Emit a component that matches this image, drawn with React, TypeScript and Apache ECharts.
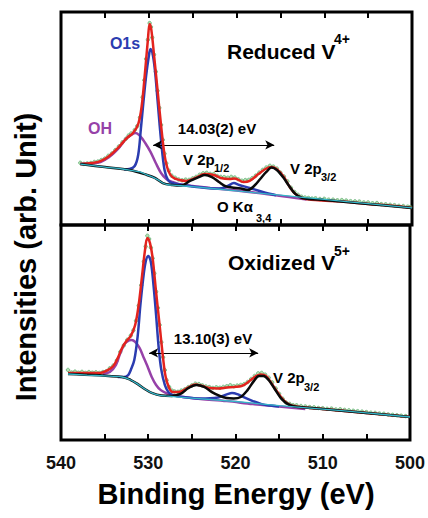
import React, { useEffect, useRef } from "react";
import * as echarts from "echarts";

// Tick labels on the binding energy axis
const xTickLabels = [540, 530, 520, 510, 500];

// ---------- Top panel: Reduced V4+ ----------
const topRaw: number[][] = [
  [537.8, 29.2], [537.4, 28.7], [537.0, 28.9], [536.6, 29.1], [536.2, 29.6], [535.8, 29.8],
  [535.4, 30.5], [535.0, 31.2], [534.6, 32.5], [534.2, 33.6], [533.8, 35.2], [533.4, 36.9],
  [533.0, 38.8], [532.6, 40.5], [532.3, 42.0], [532.0, 43.0], [531.6, 44.6], [531.3, 46.5],
  [531.0, 50.5], [530.7, 60.0], [530.5, 68.0], [530.3, 78.0], [530.1, 87.0], [529.9, 94.8],
  [529.75, 93.0], [529.6, 88.0], [529.4, 80.0], [529.2, 72.0], [529.0, 63.0], [528.8, 55.0],
  [528.6, 47.0], [528.4, 40.0], [528.2, 33.5], [528.0, 29.0], [527.7, 25.5], [527.4, 23.2],
  [527.0, 22.2], [526.6, 21.4], [526.2, 21.0], [525.8, 21.3], [525.4, 21.2], [525.0, 21.9],
  [524.6, 22.6], [524.2, 23.6], [523.8, 24.3], [523.4, 24.5], [523.0, 24.0], [522.6, 23.9],
  [522.2, 23.0], [521.8, 22.6], [521.4, 22.5], [521.0, 22.2], [520.6, 22.6], [520.2, 22.3],
  [519.8, 21.5], [519.4, 20.8], [519.0, 21.1], [518.6, 21.2], [518.2, 22.0], [517.8, 23.2],
  [517.4, 24.6], [517.0, 25.9], [516.6, 27.0], [516.2, 27.8], [515.8, 27.4], [515.4, 26.5],
  [515.0, 24.6], [514.6, 22.8], [514.2, 20.5], [513.8, 17.5], [513.4, 15.5], [513.0, 14.2],
  [512.6, 13.3], [512.2, 12.9], [511.8, 12.7], [511.4, 12.4], [511.0, 12.5], [510.5, 12.2],
  [510.0, 12.3], [509.5, 11.9], [509.0, 11.9], [508.5, 11.6], [508.0, 11.7], [507.5, 11.5],
  [507.0, 11.2], [506.5, 11.1], [506.0, 11.0], [505.5, 10.6], [505.0, 10.6], [504.5, 10.2],
  [504.0, 10.3], [503.5, 9.8], [503.0, 9.7], [502.5, 9.5], [502.0, 9.3], [501.5, 9.0],
  [501.0, 8.9], [500.5, 8.6], [500.2, 8.4],
];
const topEnvelope: number[][] = [
  [537.8, 28.6], [536.5, 29.1], [535.5, 30.0], [534.5, 32.4], [533.5, 36.2], [532.5, 40.8],
  [531.8, 43.2], [531.2, 47.4], [530.8, 56.0], [530.4, 72.8], [530.1, 86.9], [529.9, 94.4],
  [529.7, 91.5], [529.4, 79.8], [529.0, 63.4], [528.6, 46.9], [528.2, 32.9], [527.8, 25.8],
  [527.3, 22.5], [526.5, 21.1], [525.7, 20.7], [524.7, 22.1], [523.6, 23.9], [522.6, 23.5],
  [521.8, 22.1], [520.8, 21.6], [520.2, 21.8], [519.2, 20.2], [518.5, 20.7], [517.5, 23.9],
  [516.7, 26.3], [516.0, 27.2], [515.3, 25.8], [514.6, 22.5], [514.0, 18.3], [513.3, 14.6],
  [512.5, 12.7], [511.0, 11.7], [508.0, 11.0], [505.0, 9.9], [502.0, 8.9], [500.0, 8.0],
];
const topO1s: number[][] = [
  [532.8, 26.1], [532.2, 26.3], [531.6, 27.7], [531.2, 33.0], [530.9, 45.0], [530.6, 58.0],
  [530.3, 70.0], [530.0, 79.0], [529.8, 82.6], [529.6, 81.2], [529.3, 72.8], [529.0, 58.7],
  [528.6, 39.9], [528.2, 25.8], [527.8, 21.1], [527.3, 19.7], [525.0, 18.1], [522.0, 17.1],
  [521.0, 18.3], [520.3, 19.7], [519.7, 18.8], [518.5, 17.4], [517.0, 15.5], [515.5, 14.0],
];
const topOH: number[][] = [
  [537.8, 28.6], [536.5, 28.9], [535.5, 29.6], [534.5, 31.9], [533.5, 35.7], [532.6, 40.4],
  [532.0, 42.3], [531.5, 43.2], [531.0, 41.8], [530.4, 38.5], [529.8, 34.3], [529.2, 29.1],
  [528.6, 24.4], [528.0, 21.6], [527.3, 20.2], [526.5, 19.2], [525.0, 18.3], [523.0, 17.4],
  [520.0, 16.2], [517.0, 14.8], [514.0, 13.1], [512.0, 12.0],
];
const topV2p: number[][] = [
  [537.8, 28.6], [535.0, 27.2], [532.2, 25.8], [530.2, 23.5], [529.3, 22.1], [528.4, 19.7],
  [527.3, 18.8], [526.3, 18.5], [525.3, 20.7], [524.3, 22.5], [523.6, 23.5], [522.8, 22.5],
  [522.0, 20.2], [521.2, 18.1], [520.5, 17.6], [519.5, 17.1], [518.7, 16.4], [518.0, 18.3],
  [517.3, 21.6], [516.6, 24.9], [516.0, 27.0], [515.4, 25.8], [514.7, 22.5], [514.0, 18.3],
  [513.3, 14.6], [512.5, 12.7], [510.0, 11.7], [505.0, 9.9], [500.0, 8.0],
];
const topBackground: number[][] = [
  [537.8, 28.6], [535.0, 27.2], [533.0, 26.3], [532.2, 25.8], [531.0, 24.9], [530.2, 23.5],
  [529.5, 22.4], [529.0, 21.3], [528.4, 19.7], [527.8, 18.9], [527.3, 18.7], [525.0, 18.0],
  [520.0, 16.0], [515.0, 14.0], [510.0, 12.0], [505.0, 10.0], [500.0, 8.0],
];
// [from BE, to BE, level]
const topArrow = [529.5, 515.7, 37.6];

// ---------- Bottom panel: Oxidized V5+ ----------
const botRaw: number[][] = [
  [539.2, 32.6], [538.8, 31.4], [538.4, 31.8], [538.0, 31.3], [537.6, 31.7], [537.2, 31.2],
  [536.8, 31.6], [536.4, 31.3], [536.0, 31.5], [535.6, 31.2], [535.2, 31.6], [534.8, 32.0],
  [534.4, 33.4], [534.0, 34.6], [533.6, 37.0], [533.2, 41.0], [532.8, 44.0], [532.4, 46.6],
  [532.0, 48.6], [531.7, 51.0], [531.4, 55.5], [531.1, 62.5], [530.8, 72.0], [530.5, 83.0],
  [530.3, 90.0], [530.1, 95.0], [529.9, 93.5], [529.7, 89.5], [529.5, 84.5], [529.3, 77.5],
  [529.1, 69.0], [528.9, 61.5], [528.7, 53.5], [528.5, 45.5], [528.3, 38.5], [528.1, 32.5],
  [527.9, 27.8], [527.6, 24.6], [527.3, 23.0], [527.0, 22.6], [526.6, 22.4], [526.2, 23.0],
  [525.8, 23.6], [525.4, 24.6], [525.0, 25.4], [524.6, 26.2], [524.2, 26.0], [523.8, 25.4],
  [523.4, 24.9], [523.0, 24.6], [522.6, 24.2], [522.2, 24.5], [521.8, 24.3], [521.4, 24.7],
  [521.0, 25.0], [520.6, 25.5], [520.2, 25.0], [519.8, 25.3], [519.4, 25.6], [519.0, 26.0],
  [518.6, 27.0], [518.2, 28.4], [517.8, 29.8], [517.4, 31.0], [517.0, 31.2], [516.6, 30.4],
  [516.2, 29.0], [515.8, 26.8], [515.4, 24.0], [515.0, 21.5], [514.6, 19.2], [514.2, 17.4],
  [513.8, 16.8], [513.4, 16.2], [513.0, 16.1], [512.5, 15.8], [512.0, 15.6], [511.5, 15.3],
  [511.0, 15.2], [510.5, 14.9], [510.0, 14.8], [509.5, 14.5], [509.0, 14.6], [508.5, 14.2],
  [508.0, 14.3], [507.5, 14.0], [507.0, 13.8], [506.5, 13.6], [506.0, 13.4], [505.5, 13.2],
  [505.0, 13.0], [504.5, 12.7], [504.0, 12.6], [503.5, 12.3], [503.0, 12.2], [502.5, 11.9],
  [502.0, 11.7], [501.5, 11.5], [501.0, 11.3], [500.5, 11.1],
];
const botEnvelope: number[][] = [
  [539.2, 31.2], [537.0, 31.2], [535.5, 31.2], [534.6, 32.6], [534.0, 34.4], [533.5, 38.1],
  [533.0, 42.8], [532.5, 46.0], [532.0, 48.4], [531.5, 53.5], [531.1, 62.8], [530.7, 76.7],
  [530.4, 87.4], [530.1, 94.0], [529.8, 91.6], [529.5, 84.7], [529.1, 68.8], [528.7, 53.5],
  [528.3, 38.1], [528.0, 29.3], [527.6, 24.2], [527.2, 22.3], [526.5, 22.3], [525.5, 24.2],
  [524.6, 25.8], [523.8, 25.1], [523.0, 24.2], [522.0, 24.0], [521.0, 24.4], [520.2, 24.7],
  [519.3, 25.1], [518.4, 27.4], [517.6, 29.8], [517.1, 30.5], [516.5, 29.8], [515.9, 26.5],
  [515.2, 22.3], [514.5, 18.6], [513.8, 16.5], [513.0, 15.6], [512.0, 15.1], [510.0, 14.4],
  [505.0, 12.6], [500.0, 10.7],
];
const botO1s: number[][] = [
  [533.5, 29.3], [532.8, 29.3], [532.3, 30.2], [532.0, 32.6], [531.6, 37.2], [531.2, 48.8],
  [530.9, 62.8], [530.6, 74.4], [530.3, 82.8], [530.0, 85.6], [529.7, 82.8], [529.4, 72.1],
  [529.1, 58.1], [528.8, 42.8], [528.5, 32.6], [528.1, 25.6], [527.7, 22.3], [527.2, 20.9],
  [526.0, 20.0], [524.0, 19.3], [522.0, 19.8], [521.0, 21.2], [520.4, 21.9], [519.7, 21.2],
  [519.0, 19.8], [518.0, 18.1], [517.0, 16.7], [516.0, 16.0], [515.0, 15.6],
];
const botOH: number[][] = [
  [535.2, 30.7], [534.4, 31.6], [533.7, 34.9], [533.2, 40.5], [532.7, 44.7], [532.2, 46.3],
  [531.9, 46.5], [531.5, 45.6], [531.0, 42.8], [530.6, 39.1], [530.1, 34.4], [529.6, 29.3],
  [529.1, 25.6], [528.6, 23.3], [528.0, 21.9], [527.3, 20.9], [526.0, 20.0], [524.0, 19.1],
  [521.0, 18.1], [518.0, 16.7], [515.0, 15.6], [512.0, 14.4],
];
const botV2p: number[][] = [
  [539.2, 30.7], [533.0, 29.3], [532.0, 27.9], [531.2, 26.0], [530.4, 23.7], [529.6, 21.9],
  [528.5, 20.7], [527.3, 20.5], [526.3, 21.4], [525.4, 24.2], [524.5, 25.6], [523.6, 24.7],
  [522.7, 22.3], [521.8, 20.5], [521.0, 19.5], [520.2, 19.3], [519.4, 20.0], [518.6, 23.3],
  [517.9, 27.4], [517.3, 29.8], [516.8, 29.8], [516.2, 27.9], [515.5, 23.7], [514.8, 19.5],
  [514.0, 16.7], [513.2, 15.6], [512.0, 15.1], [510.0, 14.4], [505.0, 12.6], [500.0, 10.7],
];
const botBackground: number[][] = [
  [539.2, 30.7], [537.0, 30.2], [535.0, 29.8], [533.0, 29.3], [532.0, 27.9], [531.2, 26.0],
  [530.4, 23.7], [529.6, 21.9], [528.8, 20.9], [528.0, 20.5], [525.0, 19.5], [520.0, 17.9],
  [515.0, 16.0], [510.0, 14.4], [505.0, 12.6], [500.0, 10.7],
];
const botArrow = [529.9, 517.4, 40.5];

const FONT = '"Liberation Sans", Arial, Helvetica, sans-serif';
const C_RED = "#e3231e";
const C_BLUE = "#2b3cb0";
const C_PURPLE = "#9641a8";
const C_BLACK = "#0a0a0a";
const C_CYAN = "#35b6c8";

function lineSeries(data: number[][], idx: number, color: string, width: number, z: number, extra: any = {}) {
  return {
    type: "line",
    xAxisIndex: idx === 0 ? 0 : 2,
    yAxisIndex: idx,
    data,
    smooth: 0.35,
    showSymbol: false,
    symbol: "none",
    lineStyle: { color, width },
    z,
    silent: true,
    ...extra,
  };
}

function arrowMark(a: number[]) {
  return {
    silent: true,
    symbol: ["arrow", "arrow"],
    symbolSize: [7, 9],
    label: { show: false },
    lineStyle: { color: "#000", width: 1, type: "solid" },
    emphasis: { disabled: true },
    data: [[{ coord: [a[0], a[2]] }, { coord: [a[1], a[2]] }]],
  };
}

function scatterSeries(data: number[][], idx: number) {
  return {
    type: "scatter",
    xAxisIndex: idx === 0 ? 0 : 2,
    yAxisIndex: idx,
    data,
    symbol: "circle",
    symbolSize: 3.5,
    itemStyle: { color: "#a4d8a2", borderColor: "#3a9a50", borderWidth: 0.7 },
    z: 1,
    silent: true,
  };
}

function xAxisDef(gridIndex: number, position: string, labels: boolean) {
  return {
    type: "value",
    gridIndex,
    position,
    min: 500,
    max: 540,
    interval: 5,
    inverse: true,
    axisLine: { show: false },
    axisTick: { show: true, inside: true, length: 6, lineStyle: { color: "#000", width: 2 } },
    splitLine: { show: false },
    axisLabel: labels
      ? {
          show: true,
          margin: 14,
          color: "#111",
          fontFamily: FONT,
          fontWeight: "bold",
          fontSize: 18,
          formatter: (v: number) => (xTickLabels.indexOf(v) >= 0 ? String(v) : ""),
        }
      : { show: false },
  };
}

function txt(x: number, y: number, text: string, size: number, color = "#000", align = "left") {
  return {
    type: "text",
    x,
    y,
    silent: true,
    style: {
      text,
      fill: color,
      font: `bold ${size}px ${FONT}`,
      align,
      verticalAlign: "middle",
    },
  };
}

export default function App() {
  const ref = useRef<HTMLDivElement>(null);
  useEffect(() => {
    const chart = echarts.init(ref.current!, null, { renderer: "svg" });
    const option: any = {
      animation: false,
      backgroundColor: "#fff",
      grid: [
        { left: 61, top: 12, width: 351, height: 213, show: true, borderColor: "#000", borderWidth: 3, backgroundColor: "transparent" },
        { left: 61, top: 225, width: 351, height: 215, show: true, borderColor: "#000", borderWidth: 3, backgroundColor: "transparent" },
      ],
      xAxis: [
        xAxisDef(0, "bottom", false),
        xAxisDef(0, "top", false),
        xAxisDef(1, "bottom", true),
        xAxisDef(1, "top", false),
      ],
      yAxis: [
        { type: "value", gridIndex: 0, min: 0, max: 100, show: false },
        { type: "value", gridIndex: 1, min: 0, max: 100, show: false },
      ],
      series: [
        scatterSeries(topRaw, 0),
        lineSeries(topOH, 0, C_PURPLE, 2.5, 3),
        lineSeries(topO1s, 0, C_BLUE, 2.5, 4),
        lineSeries(topEnvelope, 0, C_RED, 2.5, 5, { markLine: arrowMark(topArrow) }),
        lineSeries(topV2p, 0, C_BLACK, 2.5, 6),
        lineSeries(topBackground, 0, C_CYAN, 1.3, 7),
        scatterSeries(botRaw, 1),
        lineSeries(botOH, 1, C_PURPLE, 2.5, 3),
        lineSeries(botO1s, 1, C_BLUE, 2.5, 4),
        lineSeries(botEnvelope, 1, C_RED, 2.5, 5, { markLine: arrowMark(botArrow) }),
        lineSeries(botV2p, 1, C_BLACK, 2.5, 6),
        lineSeries(botBackground, 1, C_CYAN, 1.3, 7),
      ],
      graphic: [
        // axis titles
        { ...txt(26, 257, "Intensities (arb. Unit)", 29, "#000", "center"), rotation: Math.PI / 2 },
        txt(236, 494, "Binding Energy (eV)", 29, "#000", "center"),
        // top panel
        txt(227, 51, "Reduced V", 21),
        txt(334, 39, "4+", 14),
        txt(125, 43, "O1s", 16, C_BLUE, "center"),
        txt(100, 128, "OH", 16, C_PURPLE, "center"),
        txt(217, 128, "14.03(2) eV", 15, "#000", "center"),
        txt(183, 159, "V 2p", 15),
        txt(214, 168, "1/2", 11),
        txt(290, 168, "V 2p", 15),
        txt(321, 177, "3/2", 11),
        txt(217, 206, "O K\u03b1", 15),
        txt(256, 218, "3,4", 11),
        // bottom panel
        txt(228, 262, "Oxidized V", 21),
        txt(334, 251, "5+", 14),
        txt(213, 338, "13.10(3) eV", 15, "#000", "center"),
        txt(273, 377, "V 2p", 15),
        txt(304, 387, "3/2", 11),
      ],
    };
    chart.setOption(option);
    return () => chart.dispose();
  }, []);
  return <div ref={ref} style={{ position: "fixed", left: 0, top: 0, width: 428, height: 518 }} />;
}
